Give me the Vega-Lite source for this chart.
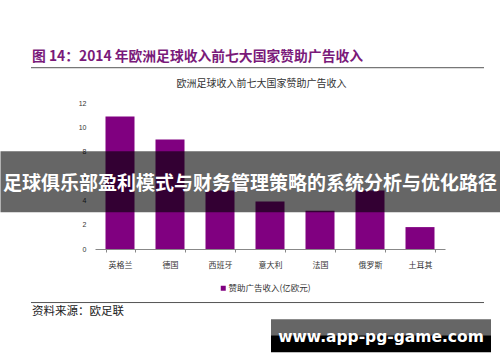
{
  "$schema": "https://vega.github.io/schema/vega-lite/v6.json",
  "autosize": "none",
  "width": 453,
  "height": 146,
  "padding": {"left": 31, "top": 103, "right": 16, "bottom": 113},
  "background": "white",
  "title": {"text": "图 14：2014 年欧洲足球收入前七大国家赞助广告收入", "anchor": "start", "frame": "group", "dx": 1, "offset": 3, "font": "Noto Sans CJK SC", "fontSize": 13.8, "fontWeight": "bold", "color": "#7a1a7a"},
  "config": {"view": {"stroke": null}, "font": "Noto Sans CJK SC"},
  "resolve": {"axis": {"y": "independent"}},
  "datasets": {
    "main": [
      {"国家": "英格兰", "收入": 10.9, "指标": "赞助广告收入(亿欧元)"},
      {"国家": "德国", "收入": 9.0, "指标": "赞助广告收入(亿欧元)"},
      {"国家": "西班牙", "收入": 4.8, "指标": "赞助广告收入(亿欧元)"},
      {"国家": "意大利", "收入": 3.9, "指标": "赞助广告收入(亿欧元)"},
      {"国家": "法国", "收入": 3.15, "指标": "赞助广告收入(亿欧元)"},
      {"国家": "俄罗斯", "收入": 4.8, "指标": "赞助广告收入(亿欧元)"},
      {"国家": "土耳其", "收入": 1.8, "指标": "赞助广告收入(亿欧元)"}
    ]
  },
  "layer": [
    {
      "data": {"name": "main"},
      "mark": {"type": "bar"},
      "encoding": {
        "x": {"field": "国家", "type": "nominal", "sort": null,
          "scale": {"range": [64, 414], "paddingInner": 0.42, "paddingOuter": 0.21},
          "axis": {"title": null, "domainColor": "#888", "tickColor": "#888", "tickSize": 3, "tickBand": "extent", "labelFontSize": 8, "labelColor": "#333", "labelPadding": 9, "labelAngle": 0, "grid": false}},
        "y": {"field": "收入", "type": "quantitative",
          "scale": {"domain": [0, 12]},
          "axis": {"title": null, "values": [0, 2, 4, 6, 8, 10, 12], "domain": false, "ticks": false, "grid": false, "offset": -64, "labelPadding": 9, "labelFontSize": 7, "labelColor": "#333", "labelFont": "Liberation Sans"}},
        "color": {"field": "指标", "type": "nominal",
          "scale": {"range": ["#800080"]},
          "legend": {"title": null, "orient": "none", "legendX": 188, "legendY": 181, "symbolType": "square", "symbolSize": 25, "symbolStrokeWidth": 0, "labelOffset": 1, "labelFontSize": 8.5, "labelColor": "#333", "padding": 0}}
      }
    },
    {
      "data": {"values": [{}]},
      "mark": {"type": "rule", "color": "#555", "strokeWidth": 1},
      "encoding": {"y": {"datum": 14.9, "type": "quantitative", "scale": {"domain": [0, 12]}, "axis": null}}
    },
    {
      "data": {"values": [{}]},
      "mark": {"type": "rule", "color": "#555", "strokeWidth": 1},
      "encoding": {"y": {"datum": -4.4, "type": "quantitative", "scale": {"domain": [0, 12]}, "axis": null}}
    },
    {
      "data": {"values": [{"标题": "欧洲足球收入前七大国家赞助广告收入"}]},
      "mark": {"type": "text", "fontSize": 10, "color": "#333", "dx": 4, "baseline": "middle"},
      "encoding": {
        "y": {"datum": 13.6, "type": "quantitative", "scale": {"domain": [0, 12]}, "axis": null},
        "text": {"field": "标题"}
      }
    },
    {
      "data": {"values": [{"来源": "资料来源：欧足联"}]},
      "mark": {"type": "text", "fontSize": 11.5, "color": "#222", "align": "left", "dx": -225.5, "baseline": "middle"},
      "encoding": {
        "y": {"datum": -5.18, "type": "quantitative", "scale": {"domain": [0, 12]}, "axis": null},
        "text": {"field": "来源"}
      }
    },
    {
      "data": {"values": [{}]},
      "mark": {"type": "rule", "color": "black", "opacity": 0.6, "strokeWidth": 61, "strokeCap": "square"},
      "encoding": {"y": {"datum": 5.52, "type": "quantitative", "scale": {"domain": [0, 12]}, "axis": null}}
    },
    {
      "data": {"values": [{"横幅": "足球俱乐部盈利模式与财务管理策略的系统分析与优化路径"}]},
      "mark": {"type": "text", "fontSize": 19, "fontWeight": "bold", "color": "white", "dx": -7.5, "baseline": "middle"},
      "encoding": {
        "y": {"datum": 5.32, "type": "quantitative", "scale": {"domain": [0, 12]}, "axis": null},
        "text": {"field": "横幅"}
      }
    },
    {
      "data": {"values": [{}]},
      "mark": {"type": "rect", "color": "#666666"},
      "encoding": {
        "x": {"value": 240}, "x2": {"value": 460},
        "y": {"datum": -5.78, "type": "quantitative", "scale": {"domain": [0, 12]}, "axis": null},
        "y2": {"datum": -7.09}
      }
    },
    {
      "data": {"values": [{}]},
      "mark": {"type": "rect", "color": "#000000"},
      "encoding": {
        "x": {"value": 240}, "x2": {"value": 460},
        "y": {"datum": -7.09, "type": "quantitative", "scale": {"domain": [0, 12]}, "axis": null},
        "y2": {"datum": -8.49}
      }
    },
    {
      "data": {"values": [{"水印": "www.app-pg-game.com"}]},
      "mark": {"type": "text", "font": "DejaVu Sans", "fontSize": 15.5, "fontWeight": "bold", "color": "white", "baseline": "alphabetic"},
      "encoding": {
        "x": {"value": 350},
        "y": {"datum": -7.64, "type": "quantitative", "scale": {"domain": [0, 12]}, "axis": null},
        "text": {"field": "水印"}
      }
    }
  ]
}
